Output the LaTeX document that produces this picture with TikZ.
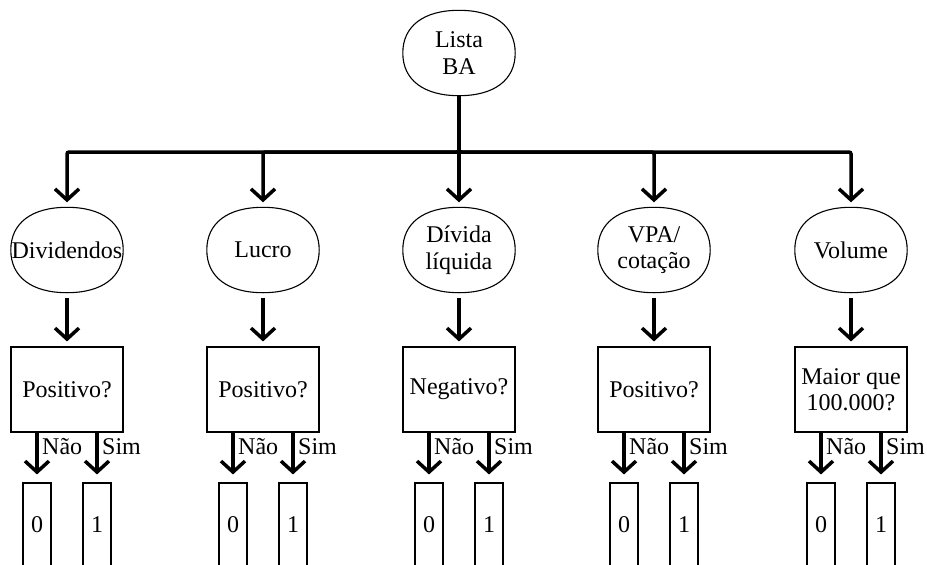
\documentclass[tikz,border=0pt]{standalone}
\usepackage{fontspec}
\setmainfont{Liberation Serif}
\usetikzlibrary{arrows.meta,calc}
\begin{document}
\begin{tikzpicture}[x=1pt,y=-1pt,
  every node/.style={font=\fontsize{24}{26.5}\selectfont},
  oval/.style={rectangle, minimum width=112pt, minimum height=85pt,
    align=center, inner sep=0pt},
  qbox/.style={rectangle, draw, line width=1.1pt, minimum width=112pt,
    minimum height=85pt, align=center, inner sep=0pt},
  bit/.style={rectangle, draw, line width=1.1pt, minimum width=28pt,
    minimum height=84pt, inner sep=0pt},
  arr/.style={line width=3.5pt, -{Straight Barb[length=11pt,width=24pt]}},
  ans/.style={anchor=base west, inner sep=1pt},
  rim/.style={line width=1.1pt},
]
\clip (0,0) rectangle (927,565);
\fill[white] (0,0) rectangle (927,565);

% root and indicators (rounded ovals are drawn below)
\node[oval] (root) at (459,53) {Lista\\BA};
\node[oval] (e1) at (67,250) {Dividendos};
\node[oval] (e2) at (263,250) {Lucro};
\node[oval] (e3) at (459,250) {Dívida\\líquida};
\node[oval] (e4) at (654,250) {VPA/\\cotação};
\node[oval] (e5) at (851,250) {Volume};

% slightly squared ellipse outline around each oval node
\def\k{0.63}
\foreach \n in {root,e1,e2,e3,e4,e5}{
  \draw[rim]
    (\n.west)
      .. controls ($(\n.west)!\k!(\n.north west)$) and ($(\n.north)!\k!(\n.north west)$) .. (\n.north)
      .. controls ($(\n.north)!\k!(\n.north east)$) and ($(\n.east)!\k!(\n.north east)$) .. (\n.east)
      .. controls ($(\n.east)!\k!(\n.south east)$) and ($(\n.south)!\k!(\n.south east)$) .. (\n.south)
      .. controls ($(\n.south)!\k!(\n.south west)$) and ($(\n.west)!\k!(\n.south west)$) .. (\n.west)
    -- cycle;
}

% tests
\node[qbox] (q1) at (67,389.5) {Positivo?};
\node[qbox] (q2) at (263,389.5) {Positivo?};
\node[qbox] (q3) at (459,389.5) {Negativo?};
\node[qbox] (q4) at (654,389.5) {Positivo?};
\node[qbox] (q5) at (851,389.5) {Maior que\\100.000?};

% outcomes (boxes run off the bottom edge)
\foreach \j/\x in {1/67,2/263,3/459,4/654,5/851}{
  \node[bit] (n\j) at (\x-30,525) {0};
  \node[bit] (s\j) at (\x+30,525) {1};
}

% bus from the root to every indicator
\coordinate (bus) at (0,152);
\foreach \c in {e1,e2,e4,e5}
  \draw[arr, rounded corners=2pt, shorten >=5pt] (root.south) |- (bus -| \c) -- (\c.north);
\draw[arr, shorten >=5pt] (root.south) -- (e3.north);

% indicator -> test -> outcomes
\foreach \j in {1,...,5}{
  \draw[arr, shorten <=5pt, shorten >=5pt] (e\j.south) -- (q\j.north);
  \draw[arr, shorten >=8pt] (q\j.south -| n\j) -- (n\j.north);
  \draw[arr, shorten >=8pt] (q\j.south -| s\j) -- (s\j.north);
  \node[ans] (no\j) at ($(n\j.north)+(4,-28)$) {Não};
  \node[ans] (yes\j) at ($(s\j.north)+(4,-28)$) {Sim};
}
\end{tikzpicture}
\end{document}
